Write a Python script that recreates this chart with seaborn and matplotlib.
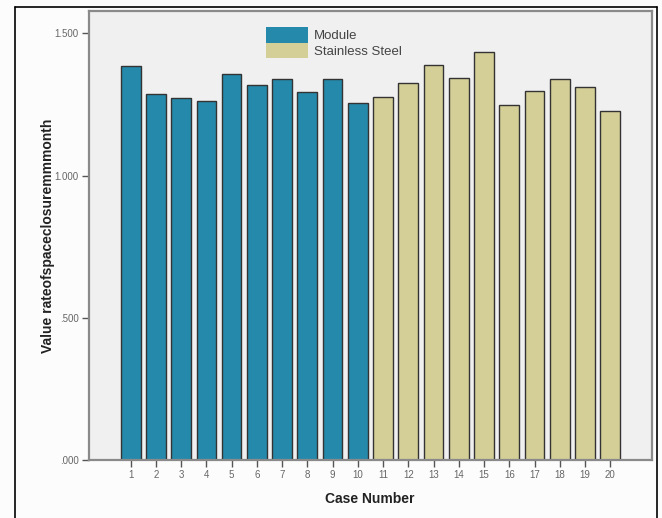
import pandas as pd
import seaborn as sns
import matplotlib.pyplot as plt
from matplotlib.lines import Line2D

case_numbers = list(range(1, 21))
groups = ['Module'] * 10 + ['Stainless Steel'] * 10
rate_values = [1.385, 1.287, 1.273, 1.262, 1.357, 1.319, 1.340, 1.294, 1.340, 1.255,
               1.276, 1.326, 1.389, 1.343, 1.435, 1.248, 1.297, 1.340, 1.312, 1.227]
y_ticks = [0.0, 0.5, 1.0, 1.5]
y_tick_labels = ['.000', '.500', '1.000', '1.500']

palette = {'Module': '#2489ab', 'Stainless Steel': '#d4cf97'}

df = pd.DataFrame({'case': [str(c) for c in case_numbers],
                   'group': groups,
                   'value': rate_values})

sns.set_style('white')
plt.rcParams['font.family'] = ['Liberation Sans', 'DejaVu Sans']

fig = plt.figure(figsize=(6.62, 5.18), dpi=100, facecolor='#fcfcfc')
ax = fig.add_axes([0.1337, 0.112, 0.851, 0.8668])
ax.set_facecolor('#f0f0f0')

sns.barplot(data=df, x='case', y='value', hue='group', palette=palette,
            dodge=False, width=0.78, saturation=1, edgecolor='#333333', linewidth=1.0,
            order=[str(c) for c in case_numbers], ax=ax)

ax.set_xlim(-1.67, 20.65)
ax.set_ylim(0, 1.579)
ax.set_yticks(y_ticks)
ax.set_yticklabels(y_tick_labels)

for side in ['left', 'right', 'top', 'bottom']:
    ax.spines[side].set_visible(True)
    ax.spines[side].set_color('#8a8a8a')
    ax.spines[side].set_linewidth(1.6)

ax.tick_params(axis='both', which='both', direction='out', length=5, width=1,
               color='#555555', labelsize=7, labelcolor='#666666', pad=2,
               bottom=True, left=True)

ax.set_xlabel('Case Number', fontsize=10, fontweight='bold', color='#222222', labelpad=9)
ax.set_ylabel('Value rateofspaceclosuremmmonth', fontsize=10, fontweight='bold',
              color='#222222', labelpad=0)

ax.legend(loc='upper left', bbox_to_anchor=(0.294, 0.99), frameon=False, title=None,
          fontsize=9.5, handlelength=3.2, handleheight=1.4, labelspacing=0.05,
          handletextpad=0.4, labelcolor='#444444')
for patch in ax.get_legend().get_patches():
    patch.set_edgecolor('none')

# outer frame around the chart
fig.add_artist(Line2D([15 / 662, 15 / 662], [0, 1 - 7 / 518], color='black', lw=1.2))
fig.add_artist(Line2D([657 / 662, 657 / 662], [0, 1 - 7 / 518], color='black', lw=1.2))
fig.add_artist(Line2D([15 / 662, 657 / 662], [1 - 7 / 518, 1 - 7 / 518], color='black', lw=1.2))

fig.savefig('out.png', dpi=100, facecolor=fig.get_facecolor())
